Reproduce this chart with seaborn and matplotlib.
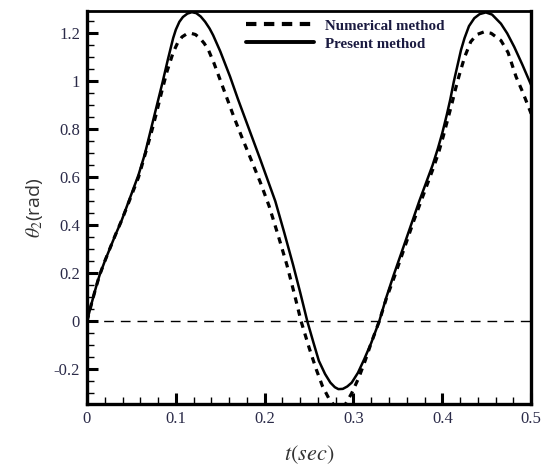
import matplotlib
matplotlib.use("Agg")
import matplotlib.pyplot as plt
import matplotlib.ticker as mticker
from matplotlib.lines import Line2D
import seaborn as sns
import pandas as pd

# ---- data ----
t_present = [0, 0.005, 0.010, 0.014, 0.020, 0.026, 0.032, 0.039, 0.048, 0.058,
             0.065, 0.071, 0.078, 0.085, 0.091, 0.097, 0.100, 0.104, 0.108, 0.113,
             0.118, 0.123, 0.128, 0.133, 0.138, 0.142, 0.150, 0.161, 0.170, 0.180,
             0.195, 0.212, 0.222, 0.232, 0.240, 0.248, 0.255, 0.261, 0.268, 0.274,
             0.279, 0.283, 0.288, 0.293, 0.298, 0.305, 0.312, 0.320, 0.329, 0.337,
             0.345, 0.353, 0.360, 0.367, 0.374, 0.381, 0.389, 0.395, 0.400, 0.405,
             0.409, 0.413, 0.417, 0.421, 0.425, 0.430, 0.436, 0.442, 0.449, 0.456,
             0.466, 0.473, 0.481, 0.490, 0.500]
v_present = [0.0, 0.072, 0.140, 0.190, 0.250, 0.305, 0.360, 0.420, 0.510, 0.610,
             0.695, 0.785, 0.890, 0.995, 1.090, 1.180, 1.215, 1.248, 1.268, 1.282,
             1.288, 1.284, 1.270, 1.248, 1.220, 1.192, 1.125, 1.020, 0.925, 0.825,
             0.675, 0.500, 0.370, 0.235, 0.120, 0.0, -0.090, -0.165, -0.220, -0.256,
             -0.275, -0.283, -0.282, -0.272, -0.256, -0.215, -0.159, -0.090, 0.0, 0.100,
             0.190, 0.275, 0.350, 0.425, 0.500, 0.570, 0.650, 0.720, 0.785, 0.860,
             0.925, 1.000, 1.065, 1.130, 1.180, 1.230, 1.263, 1.280, 1.287, 1.278,
             1.240, 1.200, 1.143, 1.070, 0.984]

t_numerical = [0, 0.005, 0.010, 0.014, 0.020, 0.026, 0.032, 0.039, 0.048, 0.058,
               0.065, 0.072, 0.078, 0.084, 0.090, 0.097, 0.102, 0.107, 0.112, 0.117,
               0.122, 0.127, 0.132, 0.137, 0.143, 0.150, 0.158, 0.165, 0.174, 0.184,
               0.195, 0.205, 0.215, 0.225, 0.233, 0.241, 0.250, 0.258, 0.265, 0.272,
               0.278, 0.284, 0.290, 0.298, 0.306, 0.313, 0.320, 0.329, 0.337, 0.346,
               0.354, 0.361, 0.368, 0.375, 0.382, 0.390, 0.396, 0.401, 0.406, 0.411,
               0.415, 0.419, 0.425, 0.432, 0.439, 0.447, 0.455, 0.466, 0.474, 0.483,
               0.491, 0.500]
v_numerical = [0.0, 0.072, 0.140, 0.190, 0.250, 0.305, 0.360, 0.420, 0.505, 0.600,
               0.690, 0.780, 0.865, 0.955, 1.040, 1.120, 1.160, 1.185, 1.197, 1.200,
               1.195, 1.180, 1.158, 1.128, 1.075, 1.005, 0.925, 0.855, 0.770, 0.680,
               0.580, 0.480, 0.360, 0.235, 0.120, 0.0, -0.110, -0.200, -0.270, -0.320,
               -0.350, -0.362, -0.352, -0.300, -0.235, -0.166, -0.090, 0.0, 0.095, 0.185,
               0.270, 0.345, 0.420, 0.490, 0.560, 0.640, 0.705, 0.770, 0.840, 0.910,
               0.970, 1.025, 1.100, 1.165, 1.195, 1.206, 1.200, 1.170, 1.120, 1.019,
               0.950, 0.865]

x_ticks = [0, 0.1, 0.2, 0.3, 0.4, 0.5]
y_ticks = [-0.2, 0, 0.2, 0.4, 0.6, 0.8, 1.0, 1.2]
legend_labels = ["Numerical method", "Present method"]

# ---- styling ----
sns.set_style("ticks")
plt.rcParams["mathtext.fontset"] = "stix"
plt.rcParams["font.family"] = ["Liberation Serif", "DejaVu Serif"]

fig = plt.figure(figsize=(5.42, 4.69), dpi=100)
ax = fig.add_axes([0.1605, 0.1386, 0.8195, 0.839])

df_p = pd.DataFrame({"t": t_present, "v": v_present})
df_n = pd.DataFrame({"t": t_numerical, "v": v_numerical})

ax.axhline(0, color="black", lw=1.0, dashes=(7, 5), zorder=1)
sns.lineplot(data=df_n, x="t", y="v", ax=ax, color="black", lw=2.3,
             dashes=False, linestyle=(0, (2.0, 1.9)), sort=False, zorder=2)
sns.lineplot(data=df_p, x="t", y="v", ax=ax, color="black", lw=1.8,
             sort=False, zorder=3)

ax.set_xlim(0, 0.5)
ax.set_ylim(-0.345, 1.295)

ax.set_xticks(x_ticks)
ax.set_yticks(y_ticks)
ax.xaxis.set_minor_locator(mticker.MultipleLocator(0.02))
ax.yaxis.set_minor_locator(mticker.MultipleLocator(0.05))
fmt = mticker.FuncFormatter(lambda v, p: "%g" % round(v, 3))
ax.xaxis.set_major_formatter(fmt)
ax.yaxis.set_major_formatter(fmt)

lab_color = "#2a2a48"
ax.tick_params(which="major", direction="in", length=8, width=2.2,
               labelsize=12, colors="black", labelcolor=lab_color, pad=5)
ax.tick_params(which="minor", direction="in", length=5, width=1.0, colors="black")
for side in ["left", "bottom", "right"]:
    ax.spines[side].set_linewidth(2.4)
ax.spines["top"].set_linewidth(2.0)
for s in ax.spines.values():
    s.set_color("black")

ax.set_xlabel(r"$t(sec)$", fontsize=16, color="#333333", labelpad=12)
ax.set_ylabel(r"$\theta_2$(rad)", fontsize=14, color="#333333",
              family=["Open Sans", "DejaVu Sans"], labelpad=6)

handles = [Line2D([], [], color="black", lw=3.0, linestyle=(0, (2.5, 1.8))),
           Line2D([], [], color="black", lw=2.8)]
leg = ax.legend(handles, legend_labels, loc="upper left",
                bbox_to_anchor=(0.358, 0.978), frameon=False,
                prop={"family": ["Liberation Serif"], "weight": "bold", "size": 10.8},
                handlelength=4.5, handletextpad=0.75, labelspacing=0.3,
                borderaxespad=0.0, borderpad=0.0)
for txt in leg.get_texts():
    txt.set_color("#1a1a40")

fig.savefig("out.png", dpi=100)
